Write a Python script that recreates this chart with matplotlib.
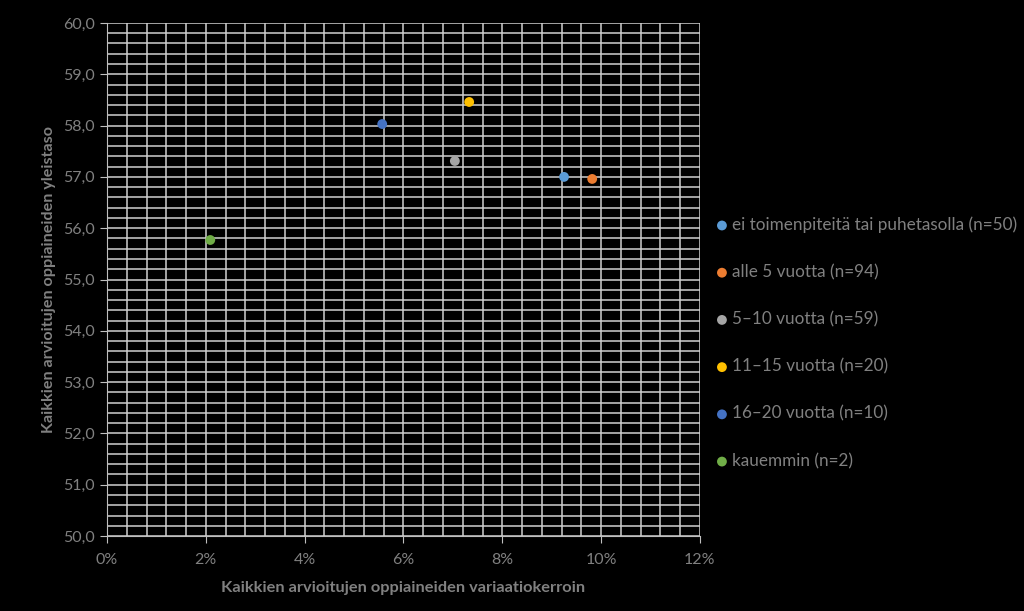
import matplotlib.pyplot as plt
from matplotlib.ticker import MultipleLocator, FuncFormatter

# data
labels = ["ei toimenpiteitä tai puhetasolla (n=50)",
          "alle 5 vuotta (n=94)",
          "5–10 vuotta (n=59)",
          "11–15 vuotta (n=20)",
          "16–20 vuotta (n=10)",
          "kauemmin (n=2)"]
variation = [0.0925, 0.0982, 0.0704, 0.0733, 0.0557, 0.0209]
level = [57.00, 56.96, 57.31, 58.46, 58.03, 55.77]
colors = ["#5B9BD5", "#ED7D31", "#A5A5A5", "#FFC000", "#4472C4", "#70AD47"]

text_color = "#808080"
plt.rcParams['font.family'] = ['Lato', 'DejaVu Sans']

fig = plt.figure(figsize=(10.24, 6.11), dpi=100, facecolor="black")
ax = fig.add_axes([0.1045, 0.1227, 0.579, 0.8397], facecolor="black")

for x, y, c, lab in zip(variation, level, colors, labels):
    ax.scatter([x], [y], s=50, color=c, label=lab, zorder=3, edgecolors="none")

ax.set_xlim(0, 0.12)
ax.set_ylim(50, 60)
ax.xaxis.set_major_locator(MultipleLocator(0.02))
ax.xaxis.set_minor_locator(MultipleLocator(0.004))
ax.yaxis.set_major_locator(MultipleLocator(1))
ax.yaxis.set_minor_locator(MultipleLocator(0.2))
ax.xaxis.set_major_formatter(FuncFormatter(lambda v, p: "{:.0f}%".format(v * 100)))
ax.yaxis.set_major_formatter(FuncFormatter(lambda v, p: "{:.1f}".format(v).replace(".", ",")))

ax.grid(True, which="both", color="#d0d0d0", linewidth=1.1, zorder=1)
ax.set_axisbelow(True)
for side in ["top", "right"]:
    ax.spines[side].set_visible(False)
for side in ["left", "bottom"]:
    ax.spines[side].set_color("#bfbfbf")
ax.tick_params(which="major", colors="#bfbfbf", labelcolor=text_color, labelsize=11.5, length=5)
ax.tick_params(axis="x", which="major", pad=7)
ax.tick_params(which="minor", length=0)

ax.set_xlabel("Kaikkien arvioitujen oppiaineiden variaatiokerroin",
              color=text_color, fontsize=11.8, fontweight="bold", labelpad=10)
ax.set_ylabel("Kaikkien arvioitujen oppiaineiden yleistaso",
              color=text_color, fontsize=11.6, fontweight="bold", labelpad=5)

leg = ax.legend(loc="upper left", bbox_to_anchor=(0.69, 0.657), bbox_transform=fig.transFigure,
                frameon=False, fontsize=12.3, labelspacing=1.82, handletextpad=0.1,
                handlelength=1.0, borderaxespad=0)
for t in leg.get_texts():
    t.set_color(text_color)

fig.savefig("out.png", dpi=100, facecolor="black")
